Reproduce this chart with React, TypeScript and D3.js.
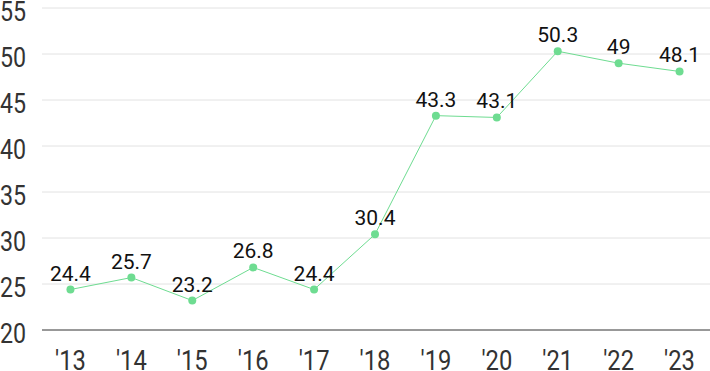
import * as d3 from 'd3';
import React from 'react';

// 연도별 값
const years = ["'13", "'14", "'15", "'16", "'17", "'18", "'19", "'20", "'21", "'22", "'23"];
const values = [24.4, 25.7, 23.2, 26.8, 24.4, 30.4, 43.3, 43.1, 50.3, 49, 48.1];
const yTicks = [20, 25, 30, 35, 40, 45, 50, 55];

const width = 710;
const height = 371;
const marginLeft = 42;
const marginTop = 8;
const marginBottom = 41;
const font = 'Roboto, "Noto Sans", sans-serif';

const App: React.FC = () => {
    const x = d3
        .scalePoint<string>()
        .domain(years)
        .range([marginLeft - 2, width])
        .padding(0.5);

    const y = d3
        .scaleLinear()
        .domain([20, 55])
        .range([height - marginBottom, marginTop]);

    const line = d3
        .line<number>()
        .x((d, i) => x(years[i]) ?? 0)
        .y((d) => y(d));

    return (
        <svg width={width} height={height} style={{ position: 'absolute', left: 0, top: 0 }}>
            {/* 가로 그리드 */}
            {yTicks.map((t) => (
                <g key={t}>
                    <line
                        x1={marginLeft}
                        x2={width}
                        y1={y(t)}
                        y2={y(t)}
                        stroke={t === 20 ? '#333' : '#e2e2e2'}
                        strokeWidth={1}
                    />
                    <text
                        transform={`translate(0,${y(t) + 12.5}) scale(0.86,1)`}
                        fontFamily={font}
                        fontSize={27}
                        fill="#333"
                    >
                        {t}
                    </text>
                </g>
            ))}
            {years.map((yr) => (
                <text
                    key={yr}
                    transform={`translate(${x(yr)},370) scale(0.88,1)`}
                    textAnchor="middle"
                    fontFamily={font}
                    fontSize={27}
                    fill="#333"
                >
                    {yr}
                </text>
            ))}
            <path d={line(values) ?? ''} fill="none" stroke="#6edc91" strokeWidth={1} />
            {values.map((v, i) => (
                <g key={i}>
                    <circle cx={x(years[i])} cy={y(v)} r={4} fill="#6edc91" />
                    <text
                        x={x(years[i])}
                        y={y(v) - 9}
                        textAnchor="middle"
                        fontFamily={font}
                        fontSize={21}
                        fill="#111"
                    >
                        {v}
                    </text>
                </g>
            ))}
        </svg>
    );
};

export default App;
